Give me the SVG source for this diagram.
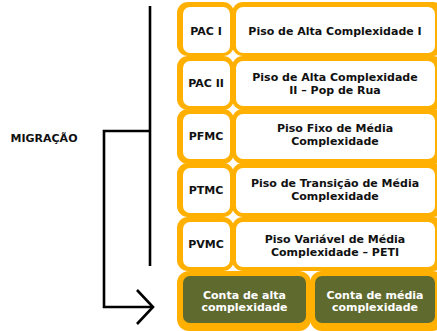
<svg xmlns="http://www.w3.org/2000/svg" width="437" height="331" viewBox="0 0 437 331">
<style>
.o{fill:#FFB000}
.w{fill:#FFFFFF}
.g{fill:#5F6A2F}
.t{font-family:"DejaVu Sans",Verdana,sans-serif;font-weight:bold;font-size:11px;fill:#111111;text-anchor:middle}
.tw{font-family:"DejaVu Sans",Verdana,sans-serif;font-weight:bold;font-size:11px;fill:#FFFFFF;text-anchor:middle}
.ln{fill:none;stroke:#000000;stroke-width:2.6}
</style>
<rect width="437" height="331" fill="#FFFFFF"/>
<g id="migracao"><text class="t" x="44" y="142">MIGRAÇÃO</text></g>
<g id="connectors">
<path class="ln" d="M150,6 V266"/>
<path class="ln" d="M150,131 H104 V307 H153"/>
<path class="ln" d="M137,290 L153,307 L137,324"/>
</g>
<g id="pac1">
<rect class="o" x="177" y="2" width="57" height="54" rx="11"/><rect class="w" x="183" y="7" width="47" height="46" rx="7"/>
<text class="t" x="206" y="35">PAC I</text>
</g>
<g id="piso-alta-1">
<rect class="o" x="232" y="2" width="212" height="54" rx="11"/><rect class="w" x="236" y="7" width="199" height="46" rx="7"/>
<text class="t" x="335" y="35">Piso de Alta Complexidade I</text>
</g>
<g id="pac2">
<rect class="o" x="177" y="56" width="57" height="54" rx="11"/><rect class="w" x="183" y="61" width="47" height="45" rx="7"/>
<text class="t" x="206" y="87">PAC II</text>
</g>
<g id="piso-alta-2">
<rect class="o" x="232" y="56" width="212" height="54" rx="11"/><rect class="w" x="236" y="61" width="199" height="45" rx="7"/>
<text class="t" x="335" y="81">Piso de Alta Complexidade</text>
<text class="t" x="335" y="94">II – Pop de Rua</text>
</g>
<g id="pfmc">
<rect class="o" x="177" y="109" width="57" height="55" rx="11"/><rect class="w" x="183" y="114" width="47" height="45" rx="7"/>
<text class="t" x="206" y="140">PFMC</text>
</g>
<g id="piso-fixo">
<rect class="o" x="232" y="109" width="212" height="55" rx="11"/><rect class="w" x="236" y="114" width="199" height="45" rx="7"/>
<text class="t" x="335" y="132">Piso Fixo de Média</text>
<text class="t" x="335" y="145">Complexidade</text>
</g>
<g id="ptmc">
<rect class="o" x="177" y="163" width="57" height="54" rx="11"/><rect class="w" x="183" y="168" width="47" height="45" rx="7"/>
<text class="t" x="206" y="194">PTMC</text>
</g>
<g id="piso-transicao">
<rect class="o" x="232" y="163" width="212" height="54" rx="11"/><rect class="w" x="236" y="168" width="199" height="45" rx="7"/>
<text class="t" x="335" y="187">Piso de Transição de Média</text>
<text class="t" x="335" y="200">Complexidade</text>
</g>
<g id="pvmc">
<rect class="o" x="177" y="217" width="57" height="54" rx="11"/><rect class="w" x="183" y="222" width="47" height="45" rx="7"/>
<text class="t" x="206" y="248">PVMC</text>
</g>
<g id="piso-variavel">
<rect class="o" x="232" y="217" width="212" height="54" rx="11"/><rect class="w" x="236" y="222" width="199" height="45" rx="7"/>
<text class="t" x="335" y="243">Piso Variável de Média</text>
<text class="t" x="335" y="256">Complexidade – PETI</text>
</g>
<g id="conta-alta">
<rect class="o" x="177" y="271" width="134" height="60" rx="12"/><rect class="g" x="183" y="276" width="123" height="47" rx="7"/>
<text class="tw" x="244.5" y="299">Conta de alta</text>
<text class="tw" x="244.5" y="311">complexidade</text>
</g>
<g id="conta-media">
<rect class="o" x="310" y="271" width="134" height="60" rx="12"/><rect class="g" x="315" y="276" width="120" height="47" rx="7"/>
<text class="tw" x="375" y="299">Conta de média</text>
<text class="tw" x="375" y="311">complexidade</text>
</g>
</svg>
